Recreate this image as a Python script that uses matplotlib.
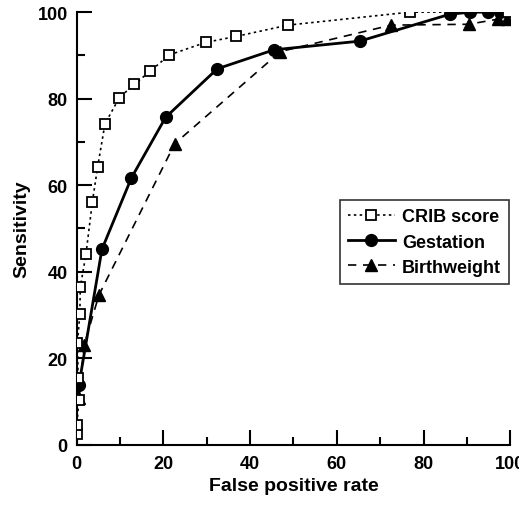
import matplotlib
matplotlib.use("Agg")
import matplotlib.pyplot as plt
from matplotlib.ticker import MultipleLocator

plt.rcParams['font.family'] = ['Liberation Sans', 'DejaVu Sans']
plt.rcParams['font.weight'] = 'bold'

# CRIB score (open squares, dotted)
crib_x = [0.0, 0.0, 0.5, 0.3, 0.15, 0.7, 0.8, 2.1, 3.6, 4.8, 6.5, 9.8, 13.2, 16.9,
          21.3, 29.7, 36.8, 48.7, 76.8, 99.5]
crib_y = [2.4, 4.6, 10.4, 15.4, 23.5, 30.3, 36.4, 44.0, 56.2, 64.2, 74.2, 80.2, 83.3,
          86.3, 90.1, 93.0, 94.4, 97.0, 100.0, 100.0]

# Gestation (filled circles, solid)
gest_x = [0.5, 5.8, 12.6, 20.5, 32.4, 45.5, 65.3, 86.0, 90.8, 94.8, 97.7]
gest_y = [13.9, 45.2, 61.7, 75.7, 86.9, 91.3, 93.3, 99.5, 100.0, 100.0, 100.0]

# Birthweight (filled triangles, dashed)
bw_x = [0.5, 1.7, 5.1, 22.6, 47.0, 72.5, 90.4, 97.3, 99.2]
bw_y = [10.8, 23.1, 34.6, 69.6, 90.9, 97.0, 97.2, 98.4, 98.4]

fig = plt.figure(figsize=(5.19, 5.06), dpi=100)
ax = fig.add_axes([0.148, 0.119, 0.835, 0.855])

ax.plot(crib_x, crib_y, linestyle=(0, (1.5, 2)), color='black', linewidth=1.2,
        marker='s', markersize=7, markerfacecolor='white', markeredgecolor='black',
        markeredgewidth=1.3, label='CRIB score', zorder=3)
ax.plot(gest_x, gest_y, linestyle='-', color='black', linewidth=2,
        marker='o', markersize=8.5, markerfacecolor='black', label='Gestation', zorder=2)
ax.plot(bw_x, bw_y, linestyle=(0, (5, 4)), color='black', linewidth=1.2,
        marker='^', markersize=9, markerfacecolor='black', label='Birthweight', zorder=2)

ax.set_xlim(0, 100)
ax.set_ylim(0, 100)
ax.spines['top'].set_visible(False)
ax.spines['right'].set_visible(False)
ax.spines['left'].set_linewidth(1.5)
ax.spines['bottom'].set_linewidth(1.5)

ax.xaxis.set_major_locator(MultipleLocator(20))
ax.xaxis.set_minor_locator(MultipleLocator(10))
ax.yaxis.set_major_locator(MultipleLocator(20))
ax.yaxis.set_minor_locator(MultipleLocator(10))
ax.tick_params(which='major', direction='in', length=10.5, width=1.5, labelsize=13)
ax.tick_params(which='minor', direction='in', length=5.5, width=1.5)
ax.tick_params(axis='x', which='major', pad=7)
ax.tick_params(axis='y', which='major', pad=6.5)
for lbl in ax.get_xticklabels() + ax.get_yticklabels():
    lbl.set_fontweight('bold')

ax.set_xlabel('False positive rate', fontsize=14, fontweight='bold', labelpad=4)
ax.set_ylabel('Sensitivity', fontsize=14, fontweight='bold', labelpad=5)

leg = ax.legend(loc='upper right', bbox_to_anchor=(0.998, 0.565), borderaxespad=0,
                fontsize=13, frameon=True, fancybox=False, edgecolor='black',
                handlelength=2.6, borderpad=0.45, labelspacing=0.45, handletextpad=0.4)
leg.get_frame().set_linewidth(1.2)

fig.savefig('out.png', dpi=100)
